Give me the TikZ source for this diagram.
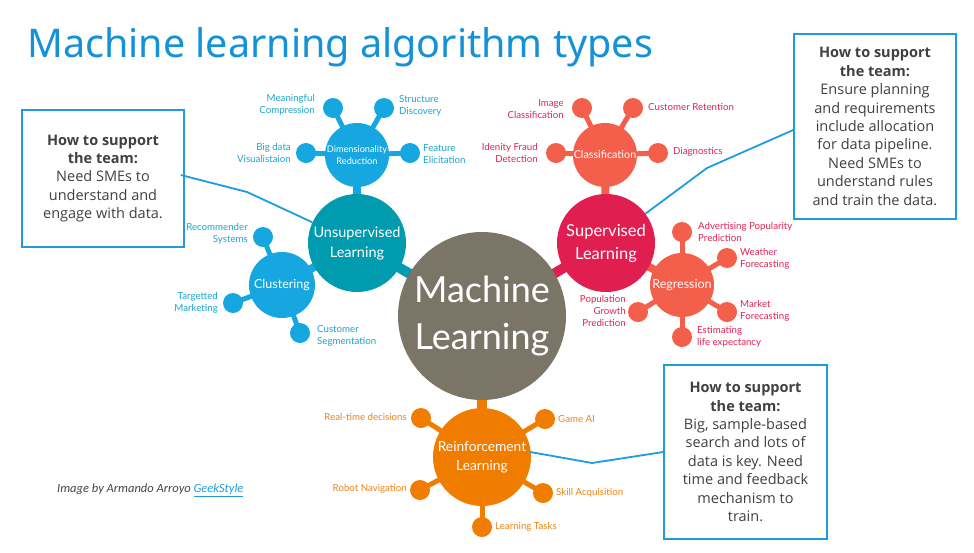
\documentclass[tikz,border=0pt]{standalone}
\usepackage{fontspec}
\setmainfont{Open Sans}
\newfontfamily\titlefont{Noto Sans}
\newfontfamily\nodefont{Lato}
\newfontfamily\boxfont{Open Sans}
\newfontfamily\creditfont{Carlito}
\usetikzlibrary{backgrounds}
\definecolor{titleblue}{RGB}{20,145,215}
\definecolor{boxblue}{RGB}{30,155,225}
\definecolor{mlgray}{RGB}{123,117,104}
\definecolor{unteal}{RGB}{0,155,175}
\definecolor{dimblue}{RGB}{22,167,224}
\definecolor{crimson}{RGB}{225,30,80}
\definecolor{coral}{RGB}{243,95,75}
\definecolor{rlorange}{RGB}{240,125,0}
\definecolor{bluelab}{RGB}{25,165,205}
\definecolor{redlab}{RGB}{225,35,85}
\definecolor{orangelab}{RGB}{240,130,20}
\definecolor{boxtext}{RGB}{64,64,64}
\definecolor{credittext}{RGB}{68,68,68}
\tikzset{
  hub/.style={circle,fill=#1,text=white,inner sep=0pt,align=center},
  sat/.style={circle,fill=#1,minimum size=20pt,inner sep=0pt},
  slink/.style={draw=#1,line width=5pt},
  hlink/.style={draw=#1,line width=10pt},
  lab/.style={inner sep=0pt,text=#1,font=\nodefont\fontsize{9.7}{12}\selectfont},
  infobox/.style={draw=boxblue,line width=1.6pt,inner sep=0pt,align=center,text=boxtext,font=\boxfont\fontsize{14.5}{18.4}\selectfont},
  callout/.style={draw=boxblue,line width=1.8pt}
}
\begin{document}
\begin{tikzpicture}[x=1pt,y=-1pt]
\useasboundingbox (0,0) rectangle (974,552);
% title
\node[anchor=base west,inner sep=0pt,text=titleblue,font=\titlefont\fontsize{39.5}{44}\selectfont] (title) at (27,57.7) {Machine learning algorithm types};

% hubs
\node[hub=mlgray,minimum size=168pt,font=\nodefont\fontsize{36}{47}\selectfont] (ml) at (482,316) {Machine\\Learning};
\node[hub=unteal,minimum size=98pt,font=\nodefont\fontsize{14.5}{20}\selectfont] (un) at (357,243) {Unsupervised\\Learning};
\node[hub=crimson,minimum size=98pt,font=\nodefont\fontsize{16.5}{23}\selectfont] (su) at (606,243) {Supervised\\Learning};
\node[hub=dimblue,minimum size=64pt,font=\nodefont\fontsize{9.2}{11.5}\selectfont] (dr) at (357,155) {Dimensionality\\Reduction};
\node[hub=coral,minimum size=64pt,font=\nodefont\fontsize{10.8}{14}\selectfont] (cl) at (605,155) {Classification};
\node[hub=coral,minimum size=64pt,font=\nodefont\fontsize{12.5}{15}\selectfont] (rg) at (682,285) {Regression};
\node[hub=dimblue,minimum size=66pt,font=\nodefont\fontsize{12.5}{15}\selectfont] (cu) at (282,285) {Clustering};
\node[hub=rlorange,minimum size=98pt,font=\nodefont\fontsize{13.8}{19}\selectfont] (rl) at (482,457) {Reinforcement\\Learning};

% satellites
\node[sat=dimblue] (s1) at (333,108) {};
\node[sat=dimblue] (s2) at (384,108) {};
\node[sat=dimblue] (s3) at (306,153) {};
\node[sat=dimblue] (s4) at (410,153) {};
\node[sat=coral] (c1) at (582,108) {};
\node[sat=coral] (c2) at (633,108) {};
\node[sat=coral] (c3) at (556,153) {};
\node[sat=coral] (c4) at (658,153) {};
\node[sat=coral] (r1) at (682,232) {};
\node[sat=coral] (r2) at (727,258) {};
\node[sat=coral] (r3) at (727,312) {};
\node[sat=coral] (r4) at (682,337) {};
\node[sat=coral] (r5) at (638,312) {};
\node[sat=dimblue] (k1) at (263,237) {};
\node[sat=dimblue] (k2) at (233,303) {};
\node[sat=dimblue] (k3) at (300,333) {};
\node[sat=rlorange] (o1) at (421,418) {};
\node[sat=rlorange] (o2) at (545,419) {};
\node[sat=rlorange] (o3) at (420,490) {};
\node[sat=rlorange] (o4) at (543,493) {};
\node[sat=rlorange] (o5) at (482,527) {};

% links
\begin{pgfonlayer}{background}
\draw[hlink=unteal] (un.center) -- (ml.center);
\draw[hlink=crimson] (su.center) -- (ml.center);
\draw[hlink=rlorange] (rl.center) -- (ml.center);
\draw[draw=dimblue,line width=8pt] (dr.center) -- (un.center);
\draw[draw=coral,line width=8pt] (cl.center) -- (su.center);
\draw[draw=coral,line width=8pt] (rg.center) -- (su.center);
\draw[draw=dimblue,line width=8pt] (cu.center) -- (un.center);
\foreach \s in {s1,s2,s3,s4} \draw[slink=dimblue] (\s.center) -- (dr.center);
\foreach \s in {c1,c2,c3,c4} \draw[slink=coral] (\s.center) -- (cl.center);
\foreach \s in {r1,r2,r3,r4,r5} \draw[slink=coral] (\s.center) -- (rg.center);
\foreach \s in {k1,k2,k3} \draw[slink=dimblue] (\s.center) -- (cu.center);
\foreach \s in {o1,o2,o3,o4,o5} \draw[slink=rlorange] (\s.center) -- (rl.center);
\end{pgfonlayer}

% labels
\node[lab=bluelab,anchor=east,align=right] (l1) at (315,105) {Meaningful\\Compression};
\node[lab=bluelab,anchor=west,align=left] (l2) at (399,106) {Structure\\Discovery};
\node[lab=bluelab,anchor=east,align=right] (l3) at (291,153) {Big data\\Visualistaion};
\node[lab=bluelab,anchor=west,align=left] (l4) at (423,154) {Feature\\Elicitation};
\node[lab=redlab,anchor=east,align=right] (l5) at (564,109) {Image\\Classification};
\node[lab=redlab,anchor=west] (l6) at (648,107) {Customer Retention};
\node[lab=redlab,anchor=east,align=right] (l7) at (538,153) {Idenity Fraud\\Detection};
\node[lab=redlab,anchor=west] (l8) at (673,152) {Diagnostics};
\node[lab=redlab,anchor=west,align=left] (l9) at (698,232) {Advertising Popularity\\Prediction};
\node[lab=redlab,anchor=west,align=left] (l10) at (740,259) {Weather\\Forecasting};
\node[lab=redlab,anchor=west,align=left] (l11) at (740,311) {Market\\Forecasting};
\node[lab=redlab,anchor=west,align=left] (l12) at (697,337) {Estimating\\life expectancy};
\node[lab=redlab,anchor=east,align=right] (l13) at (626,311) {Population\\Growth\\Prediction};
\node[lab=bluelab,anchor=east,align=right] (l14) at (248,234) {Recommender\\Systems};
\node[lab=bluelab,anchor=east,align=right] (l15) at (218,303) {Targetted\\Marketing};
\node[lab=bluelab,anchor=west,align=left] (l16) at (317,336) {Customer\\Segmentation};
\node[lab=orangelab,anchor=east] (l17) at (407,417) {Real-time decisions};
\node[lab=orangelab,anchor=west] (l18) at (558,419) {Game AI};
\node[lab=orangelab,anchor=east] (l19) at (407,489) {Robot Navigation};
\node[lab=orangelab,anchor=west] (l20) at (556,493) {Skill Acquisition};
\node[lab=orangelab,anchor=west] (l21) at (495,527) {Learning Tasks};

% info boxes
\node[infobox,minimum width=162pt,minimum height=137pt] (lbox) at (103,178.5)
  {\textbf{How to support}\\\textbf{the team:}\\Need SMEs to\\understand and\\engage with data.};
\node[infobox,minimum width=162pt,minimum height=185pt] (rbox) at (875,126.5)
  {\textbf{How to support}\\\textbf{the team:}\\Ensure planning\\and requirements\\include allocation\\for data pipeline.\\Need SMEs to\\understand rules\\and train the data.};
\node[infobox,minimum width=163pt,minimum height=174pt] (bbox) at (745.5,452)
  {\textbf{How to support}\\\textbf{the team:}\\Big, sample-based\\search and lots of\\data is key. Need\\time and feedback\\mechanism to\\train.};

% callouts
\coordinate (lk) at (247,192);
\coordinate (rk) at (707,168);
\coordinate (bk) at (592,463);
\draw[callout] ([xshift=-4pt,yshift=3.5pt]lbox.east) -- (lk) -- (un);
\draw[callout] ([yshift=-3.5pt]rbox.west) -- (rk) -- (su);
\draw[callout] (bbox.west) -- (bk) -- ([xshift=-1pt,yshift=5pt]rl.east);

% credit
\node[anchor=west,inner sep=0pt,text=credittext,font=\creditfont\itshape\fontsize{12.5}{15}\selectfont] (credit) at (57,490)
  {Image by Armando Arroyo \textcolor{boxblue}{\underline{GeekStyle}}};
\end{tikzpicture}
\end{document}
